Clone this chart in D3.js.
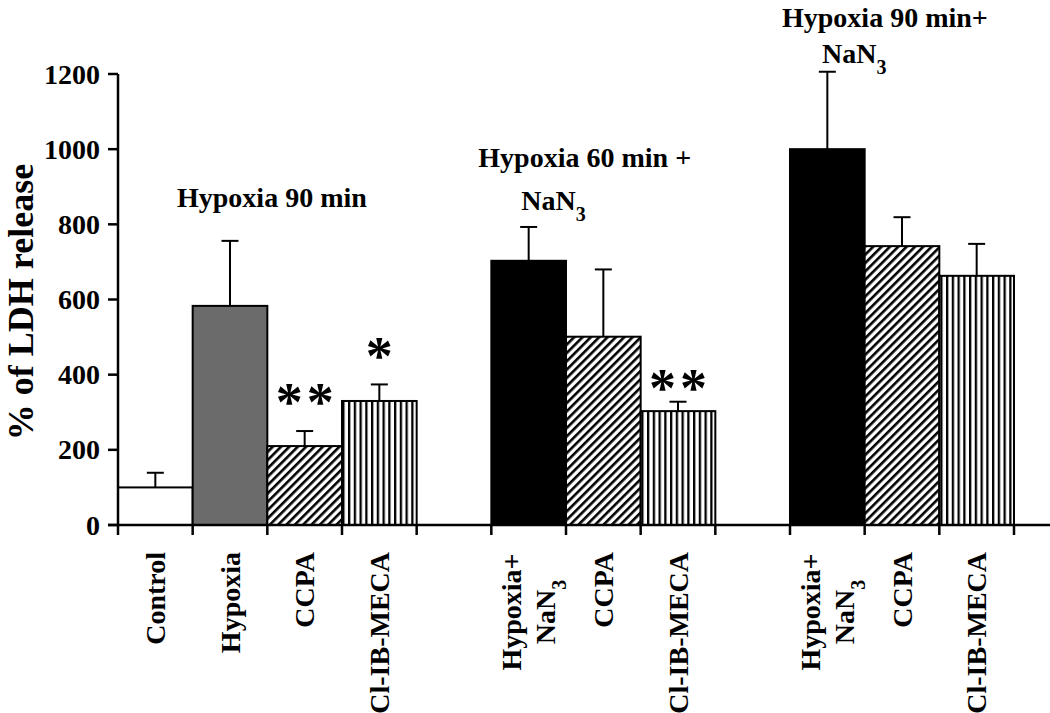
<!DOCTYPE html>
<html>
<head>
<meta charset="utf-8">
<script src="https://cdn.jsdelivr.net/npm/d3@7"></script>
<style>
  html, body { margin: 0; padding: 0; background: #fff; }
  svg { display: block; }
  text { font-family: "Liberation Serif", "Times New Roman", serif; font-weight: bold; fill: #000; }
</style>
</head>
<body>
<svg id="chart" width="1050" height="713"></svg>
<script>
// ---------------- data ----------------
const groupTitles = [["Hypoxia 90 min"], ["Hypoxia 60 min +", "NaN|3"], ["Hypoxia 90 min+", "NaN|3"]];
const groupSizes = [4, 3, 3];
const categories = ["Control", "Hypoxia", "CCPA", "Cl-IB-MECA",
                    "Hypoxia+\nNaN|3", "CCPA", "Cl-IB-MECA",
                    "Hypoxia+\nNaN|3", "CCPA", "Cl-IB-MECA"];
const values = [100, 583, 210, 330, 703, 501, 303, 1000, 742, 663];
const errors = [39, 173, 40, 44, 90, 179, 25, 206, 77, 85];
const significance = ["", "", "**", "*", "", "", "**", "", "", ""];
const yTicks = [0, 200, 400, 600, 800, 1000, 1200];
const yLabel = "% of LDH release";

// ---------------- layout ----------------
const W = 1050, H = 713;
const svg = d3.select("#chart");
const plotLeft = 118, plotRight = 1014, plotTop = 74, plotBottom = 525;

// slots: bars per group separated by a one-slot gap
const slots = [];
let s = 0;
groupSizes.forEach((n, gi) => {
  for (let k = 0; k < n; k++) slots.push({ slot: s++, group: gi });
  if (gi < groupSizes.length - 1) s++;
});
const nSlots = s;

const x = d3.scaleBand().domain(d3.range(nSlots)).range([plotLeft, plotRight]).paddingInner(0).paddingOuter(0);
const y = d3.scaleLinear().domain([0, 1200]).range([plotBottom, plotTop]);

// ---------------- patterns ----------------
const defs = svg.append("defs");
const diag = defs.append("pattern").attr("id", "diag").attr("patternUnits", "userSpaceOnUse")
  .attr("width", 5.9).attr("height", 10).attr("patternTransform", "rotate(45)");
diag.append("rect").attr("width", 5.9).attr("height", 10).attr("fill", "#fff");
diag.append("rect").attr("width", 2.6).attr("height", 10).attr("fill", "#000");

const vert = defs.append("pattern").attr("id", "vert").attr("patternUnits", "userSpaceOnUse")
  .attr("x", plotLeft).attr("width", 5.75).attr("height", 10);
vert.append("rect").attr("width", 5.75).attr("height", 10).attr("fill", "#fff");
vert.append("rect").attr("width", 2.3).attr("height", 10).attr("fill", "#000");

function fillFor(cat) {
  if (cat === "Control") return "#fff";
  if (cat === "Hypoxia") return "#6b6b6b";
  if (cat.startsWith("Hypoxia+")) return "#000";
  if (cat === "CCPA") return "url(#diag)";
  return "url(#vert)";
}

const data = categories.map((c, i) => ({
  cat: c, value: values[i], err: errors[i], sig: significance[i],
  slot: slots[i].slot, group: slots[i].group
}));

// ---------------- bars ----------------
svg.append("g").selectAll("rect").data(data).join("rect")
  .attr("x", d => x(d.slot))
  .attr("y", d => y(d.value))
  .attr("width", x.bandwidth())
  .attr("height", d => y(0) - y(d.value))
  .attr("fill", d => fillFor(d.cat))
  .attr("stroke", "#000").attr("stroke-width", 2);

// ---------------- error bars ----------------
const eb = svg.append("g").attr("stroke", "#000").attr("stroke-width", 2);
data.forEach(d => {
  const cx = x(d.slot) + x.bandwidth() / 2;
  eb.append("line").attr("x1", cx).attr("x2", cx).attr("y1", y(d.value)).attr("y2", y(d.value + d.err));
  eb.append("line").attr("x1", cx - 8.5).attr("x2", cx + 8.5).attr("y1", y(d.value + d.err)).attr("y2", y(d.value + d.err));
});

// ---------------- significance stars ----------------
const starGap = [0, 0, 35, 34, 0, 0, 20, 0, 0, 0];
data.forEach((d, i) => {
  if (!d.sig) return;
  const cx = x(d.slot) + x.bandwidth() / 2;
  const cy = y(d.value + d.err) - starGap[i];
  const n = d.sig.length;
  for (let k = 0; k < n; k++) {
    const sx = cx + (k - (n - 1) / 2) * 31;
    svg.append("text").attr("x", sx).attr("y", cy + 24)
      .attr("text-anchor", "middle").style("font-size", "54px").style("font-weight", "bold")
      .text("*");
  }
});

// ---------------- axes ----------------
const axG = svg.append("g").attr("stroke", "#000").attr("stroke-width", 2.5).attr("fill", "none");
axG.append("line").attr("x1", plotLeft).attr("x2", plotLeft).attr("y1", y(1200)).attr("y2", y(0));
axG.append("line").attr("x1", plotLeft - 10).attr("x2", W).attr("y1", y(0)).attr("y2", y(0));
yTicks.forEach(t => {
  axG.append("line").attr("x1", plotLeft - 10).attr("x2", plotLeft).attr("y1", y(t)).attr("y2", y(t));
  svg.append("text").attr("x", plotLeft - 18).attr("y", y(t)).attr("dy", "0.34em")
    .attr("text-anchor", "end").style("font-size", "28px").text(t);
});
d3.range(nSlots + 1).forEach(i => {
  const tx = plotLeft + i * x.step();
  axG.append("line").attr("x1", tx).attr("x2", tx).attr("y1", y(0)).attr("y2", y(0) + 10);
});

// y-axis title
svg.append("text").attr("transform", `translate(33,302) rotate(-90)`)
  .attr("text-anchor", "middle").style("font-size", "36px").text(yLabel);

function writeSub(sel, str, subSize) {
  const parts = str.split("|");
  sel.append("tspan").text(parts[0]);
  if (parts.length > 1) {
    sel.append("tspan").attr("baseline-shift", "sub").style("font-size", subSize).text(parts[1]);
  }
}

// ---------------- category labels ----------------
data.forEach(d => {
  const cx = x(d.slot) + x.bandwidth() / 2;
  const lines = d.cat.split("\n");
  if (lines.length === 1) {
    const t = svg.append("text").attr("transform", `translate(${cx},552) rotate(-90)`)
      .attr("text-anchor", "end").attr("dy", "0.35em").style("font-size", "28px");
    writeSub(t, lines[0], "20px");
  } else {
    const sp = 34;
    lines.forEach((ln, li) => {
      const off = (li - (lines.length - 1) / 2) * sp;
      const t = svg.append("text").attr("transform", `translate(${cx + off},612) rotate(-90)`)
        .attr("text-anchor", "middle").attr("dy", "0.35em").style("font-size", "28px");
      writeSub(t, ln, "20px");
    });
  }
});

// ---------------- group titles ----------------
const titleLayout = [
  { dx: [59], by: [207] },
  { dx: [-13, 30], by: [167, 210] },
  { dx: [-8, 32], by: [27, 63] }
];
groupTitles.forEach((lines, gi) => {
  const first = data.find(d => d.group === gi);
  const left = x(first.slot);
  lines.forEach((ln, li) => {
    const t = svg.append("text").attr("x", left + titleLayout[gi].dx[li]).attr("y", titleLayout[gi].by[li])
      .attr("text-anchor", "start").style("font-size", "28px");
    writeSub(t, ln, "20px");
  });
});
</script>
</body>
</html>
